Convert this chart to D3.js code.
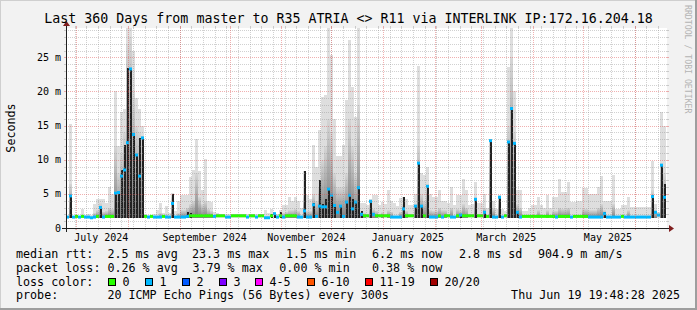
<!DOCTYPE html>
<meta charset="utf-8">
<style>
body { margin: 0; background: #f2f2f2; }
svg { display: block; font-family: "DejaVu Sans Mono", monospace; }
</style>
<body>
<script src="https://d3js.org/d3.v7.min.js"></script>
<script>

// one value per RRD step (360 days / 200 steps = 1.8 days), milliseconds
var median = [
  1.6,4.7,1.6,1.7,1.6,1.7,1.6,1.6,1.5,1.6,
  1.7,3.0,1.6,1.7,1.7,1.7,5.1,5.2,7.6,8.5,
  12.5,23.3,13.7,10.7,7.6,13.2,1.7,1.6,1.7,1.6,
  1.6,1.6,1.7,1.6,1.6,3.6,1.6,1.6,1.6,1.6,
  1.7,1.8,1.8,1.8,1.8,1.8,1.8,1.8,1.8,1.7,
  1.8,1.8,1.8,1.6,1.6,1.8,1.8,1.8,1.8,1.8,
  1.6,1.8,1.8,1.6,1.8,1.8,1.5,1.5,1.8,2.1,
  1.6,1.8,1.6,1.8,1.8,1.8,1.8,1.6,1.6,2.5,
  1.6,1.6,3.4,1.7,3.2,3.1,3.1,5.7,4.8,3.3,
  2.3,3.2,1.7,3.8,4.8,2.8,3.8,5.9,2.0,1.8,
  1.8,3.9,2.0,1.8,1.8,1.8,1.8,1.8,1.6,1.6,
  1.6,1.6,2.8,1.8,1.8,1.8,3.2,9.5,3.2,1.8,
  6.1,1.6,1.6,1.6,1.8,1.6,1.8,1.8,1.6,1.6,
  1.8,1.9,1.8,1.8,1.8,1.8,4.2,1.8,1.8,2.3,
  1.7,12.8,1.6,1.6,4.5,1.6,1.8,12.6,17.5,12.4,
  2.3,1.6,1.7,1.7,1.7,1.7,1.7,1.7,1.7,1.7,
  1.7,1.7,1.7,1.6,1.7,1.7,1.7,1.7,1.6,1.7,
  1.7,1.7,1.7,1.7,1.6,1.6,1.6,1.6,1.6,2.1,
  1.6,1.6,1.6,1.6,1.6,1.7,1.6,1.6,1.6,1.6,
  1.6,1.6,1.6,1.6,1.6,4.6,2.3,1.9,9.2,4.5
];

// loss class index per step (0 = no loss, 1 = one ping lost)
var lossClass = [
  1,1,1,0,1,0,1,1,1,1,
  0,1,1,0,0,0,1,1,1,1,
  1,1,1,1,1,1,0,1,0,1,
  1,1,0,1,1,1,1,1,1,1,
  1,0,0,0,0,0,0,0,0,1,
  0,0,0,1,1,0,0,0,0,0,
  1,0,0,1,0,0,1,1,0,1,
  1,0,1,0,0,0,0,1,1,1,
  1,1,1,1,1,1,1,1,1,1,
  1,1,1,1,1,1,1,1,1,0,
  0,1,1,0,0,0,0,0,1,1,
  1,1,1,0,0,0,1,1,1,0,
  1,1,1,1,0,1,0,0,1,1,
  0,1,0,0,0,0,1,0,0,1,
  0,1,1,1,1,1,0,1,1,1,
  1,1,0,0,0,0,0,0,0,0,
  0,0,0,1,0,0,0,0,1,0,
  0,0,0,0,1,1,1,1,1,1,
  1,1,1,1,1,0,1,1,1,1,
  1,1,1,1,1,1,1,1,1,1
];

// slowest ping of the step (top of the smoke)
var smokeTop = [
  1.8,15.2,1.8,1.8,1.8,2.8,1.9,2.0,1.9,3.5,
  4.3,4.3,4.3,3.6,6.0,5.0,20,12,17,17.5,
  29.3,29.3,26,19,17.5,15,1.9,1.9,1.9,2.0,
  2.6,3.6,2.2,3.2,2.2,5.2,2.5,3.9,4.9,4.8,
  4.8,7.4,8.5,13.0,8.4,5.6,10.1,4.0,3.8,2.4,
  2.2,2.1,2.0,2.1,2.0,2.0,2.1,2.0,2.0,2.0,
  2.0,2.0,2.0,2.0,2.0,2.1,2.6,2.2,2.8,2.3,
  2.0,2.7,3.3,3.3,4.5,4.0,4.5,4.0,3.0,8.4,
  4.8,4.3,12.1,8.9,14.3,19.2,19.5,29.3,25.3,16,
  10.5,10.6,12.1,18.7,27.5,20.6,16.2,29.3,3.6,3.6,
  3.3,4.2,4.8,4.8,3.3,3.8,3.5,5.5,4.0,3.6,
  3.2,4.4,4.5,4.3,3.3,3.3,5.0,23.8,8.0,7.7,
  8.9,5.0,4.5,4.5,5.6,4.0,4.0,3.6,6.0,3.4,
  4.8,4.8,7.2,5.5,3.3,3.5,6.7,3.6,3.6,5.0,
  3.0,12.9,4.0,2.8,4.8,2.8,2.5,23.6,29.3,20,
  5.5,5.5,2.5,2.5,3.0,3.3,3.3,4.5,3.3,3.0,
  4.8,3.0,4.5,4.5,7.2,5.3,5.3,6.7,3.8,3.8,
  4.0,4.0,5.8,5.8,5.0,5.0,5.0,6.0,7.6,4.0,
  4.0,4.0,7.7,2.8,2.8,3.3,3.3,4.6,3.1,3.1,
  3.1,3.1,3.1,3.1,3.1,9.8,3.5,2.4,17,15
];

// upper edge of the denser smoke (0 = none)
var smokeMid = [
  0,6.5,0,0,0,0,0,0,0,2.2,
  2.6,3.6,2.4,2.5,3.0,2.8,12,8,11,14,
  27,28,20,15,14,13.5,0,0,0,0,
  0,2.2,0,2.0,0,4.5,0,2.2,2.6,2.6,
  3.0,3.5,4.0,8.0,4.5,3.5,4.0,2.8,2.5,0,
  0,0,0,0,0,0,0,0,0,0,
  0,0,0,0,0,0,0,0,0,0,
  0,0,2.2,2.4,2.6,2.6,2.8,2.5,0,5.0,
  2.5,2.5,5,4,6,10,12,16,14,8,
  6,6,6,8,16,12,8,18,2.4,2.2,
  0,3.5,2.8,2.5,0,2.3,0,2.6,2.4,0,
  0,2.4,3.5,2.5,0,0,3.5,12,5,4,
  6.5,2.6,2.5,2.5,3.0,2.6,2.6,0,3.0,0,
  2.8,2.6,3.5,3.0,0,0,4.5,0,0,3.0,
  0,12.8,3.0,0,4.6,0,0,15,25,14,
  3.5,3.0,0,0,0,0,0,2.6,0,0,
  2.6,0,2.5,2.5,3.0,2.8,2.8,3.0,0,0,
  0,0,2.8,2.8,2.6,2.6,2.6,3.0,3.5,2.6,
  0,0,3.5,0,0,0,0,2.6,0,0,
  0,0,0,0,0,5.5,2.6,0,9.5,8
];

// upper edge of the darkest smoke around the median (0 = none)
var smokeDark = [
  0,4.7,0,0,0,0,0,0,0,0,
  0,3.0,0,0,0,0,5.1,5.2,8.5,12.2,
  23.4,23.3,13.7,10.7,13.2,13.2,0,0,0,0,
  0,0,0,0,0,5.0,0,0,0,0,
  2.3,2.2,0,0,0,0,0,0,0,0,
  0,0,0,0,0,0,0,0,0,0,
  0,0,0,0,0,0,0,0,2.0,2.2,
  0,2.3,0,0,0,0,0,0,0,8.4,
  0,0,3.6,0,7.0,3.5,4.3,5.8,4.8,3.3,
  0,3.2,0,4.0,4.8,4.3,3.8,6.0,2.5,0,
  0,4.0,0,0,0,0,0,0,0,0,
  0,0,4.5,0,0,0,3.3,9.6,3.3,0,
  6.2,0,0,0,0,0,0,0,0,0,
  0,2.1,0,0,0,0,4.3,0,0,2.5,
  0,12.8,0,0,4.6,0,0,12.6,17.7,12.4,
  2.5,0,0,0,0,0,0,0,0,0,
  0,0,0,0,0,0,0,0,0,0,
  0,0,0,0,0,0,0,0,0,2.3,
  0,0,0,0,0,0,0,0,0,0,
  0,0,0,0,0,4.8,0,0,9.4,6.5
];

var fastestPing = 1.4;          // bottom of the smoke
var yMax = 29.3;

var yTicks = [0, 5, 10, 15, 20, 25];
var yTickLabels = ["0", "5 m", "10 m", "15 m", "20 m", "25 m"];
var xLabelMonths = ["2024-07", "2024-09", "2024-11", "2025-01", "2025-03", "2025-05"];
var xLabels = ["July 2024", "September 2024", "November 2024", "January 2025", "March 2025", "May 2025"];

var lossLabels = ["0", "1", "2", "3", "4-5", "6-10", "11-19", "20/20"];
var lossColors = ["#26ff00", "#00b8ff", "#0059ff", "#7e00ff", "#ff00ff", "#ff5500", "#ff0000", "#a00000"];

var title = "Last 360 Days from master to R35 ATRIA <> R11 via INTERLINK IP:172.16.204.18";
var statRtt = ["median rtt:", "2.5 ms avg", "23.3 ms max", "1.5 ms min", "6.2 ms now", "2.8 ms sd", "904.9 m am/s"];
var statLoss = ["packet loss:", "0.26 % avg", "3.79 % max", "0.00 % min", "0.38 % now"];
var probeText = ["probe:", "20 ICMP Echo Pings (56 Bytes) every 300s"];
var stamp = "Thu Jun 19 19:48:28 2025";

// ---- layout ----
var W = 697, H = 310;
var plotL = 66, plotR = 666, plotT = 28, plotB = 228;

var tEnd = new Date(Date.UTC(2025, 5, 19, 19, 48, 28));
var tStart = new Date(+tEnd - 360 * 864e5);
var step = (tEnd - tStart) / median.length;
function stepTime(i) { return new Date(+tStart + i * step); }

var x = d3.scaleUtc().domain([tStart, tEnd]).range([plotL, plotR]);
var y = d3.scaleLinear().domain([0, yMax]).range([plotB, plotT]);

var svg = d3.select("body").append("svg")
    .attr("width", W)
    .attr("height", H);

// background and frame shades
svg.append("rect").attr("width", W).attr("height", H).attr("fill", "#f2f2f2");
svg.append("rect").attr("x", 0).attr("y", 0).attr("width", W).attr("height", 1).attr("fill", "#cfcfcf");
svg.append("rect").attr("x", 0).attr("y", 0).attr("width", 1).attr("height", H).attr("fill", "#cfcfcf");
svg.append("rect").attr("x", 0).attr("y", H - 2).attr("width", W).attr("height", 2).attr("fill", "#9e9e9e");
svg.append("rect").attr("x", W - 2).attr("y", 0).attr("width", 2).attr("height", H).attr("fill", "#9e9e9e");

// canvas
svg.append("rect")
    .attr("x", plotL).attr("y", plotT)
    .attr("width", plotR - plotL + 1).attr("height", plotB - plotT)
    .attr("fill", "#fff");

var defs = svg.append("defs");
var grad = defs.append("linearGradient").attr("id", "smoke")
    .attr("x1", 0).attr("y1", 1).attr("x2", 0).attr("y2", 0);
grad.append("stop").attr("offset", "0%").attr("stop-color", "#7c7c7c");
grad.append("stop").attr("offset", "100%").attr("stop-color", "#d6d6d6");

var idx = d3.range(median.length);
function bx(i) { return x(stepTime(i)); }
function bw(i) { return x(stepTime(i + 1)) - x(stepTime(i)); }

// light smoke
svg.append("g").attr("shape-rendering", "crispEdges")
  .selectAll("rect")
    .data(idx.filter(function(i) { return smokeTop[i] > fastestPing; }))
  .enter().append("rect")
    .attr("x", bx)
    .attr("width", bw)
    .attr("y", function(i) { return y(smokeTop[i]); })
    .attr("height", function(i) { return y(fastestPing) - y(smokeTop[i]); })
    .attr("fill", "#dedede");

// denser smoke
svg.append("g").attr("shape-rendering", "crispEdges")
  .selectAll("rect")
    .data(idx.filter(function(i) { return smokeMid[i] > fastestPing; }))
  .enter().append("rect")
    .attr("x", bx)
    .attr("width", bw)
    .attr("y", function(i) { return y(smokeMid[i]); })
    .attr("height", function(i) { return y(fastestPing) - y(smokeMid[i]); })
    .attr("fill", "url(#smoke)");

// darkest smoke
svg.append("g").attr("shape-rendering", "crispEdges")
  .selectAll("rect")
    .data(idx.filter(function(i) { return smokeDark[i] > fastestPing; }))
  .enter().append("rect")
    .attr("x", function(i) { return bx(i) + 0.5; })
    .attr("width", function(i) { return bw(i) - 1; })
    .attr("y", function(i) { return y(smokeDark[i]); })
    .attr("height", function(i) { return y(fastestPing) - y(smokeDark[i]); })
    .attr("fill", "#222");

// median, coloured by loss
svg.append("g")
  .selectAll("line")
    .data(idx)
  .enter().append("line")
    .attr("x1", bx)
    .attr("x2", function(i) { return bx(i) + bw(i); })
    .attr("y1", function(i) { return y(median[i]); })
    .attr("y2", function(i) { return y(median[i]); })
    .attr("stroke", function(i) { return lossColors[lossClass[i]]; })
    .attr("stroke-width", 3);

// ---- grid (drawn over the data, like rrdtool) ----
var minorCol = "rgba(140,140,140,0.4)", majorCol = "rgba(222,79,79,0.45)";
var grid = svg.append("g").attr("shape-rendering", "crispEdges");

function hLine(v, col) {
  var yy = Math.round(y(v)) + 0.5;
  grid.append("line").attr("x1", plotL).attr("x2", plotR + 1).attr("y1", yy).attr("y2", yy)
      .attr("stroke", col).attr("stroke-dasharray", "1,1");
  grid.append("line").attr("x1", plotL - 2).attr("x2", plotL).attr("y1", yy).attr("y2", yy).attr("stroke", col);
  grid.append("line").attr("x1", plotR + 1).attr("x2", plotR + 3).attr("y1", yy).attr("y2", yy).attr("stroke", col);
}
function vLine(t, col) {
  var xx = Math.round(x(t)) + 0.5;
  grid.append("line").attr("x1", xx).attr("x2", xx).attr("y1", plotT).attr("y2", plotB)
      .attr("stroke", col).attr("stroke-dasharray", "1,1");
  grid.append("line").attr("x1", xx).attr("x2", xx).attr("y1", plotT - 2).attr("y2", plotT).attr("stroke", col);
  grid.append("line").attr("x1", xx).attr("x2", xx).attr("y1", plotB).attr("y2", plotB + 2).attr("stroke", col);
}

d3.range(1, Math.floor(yMax) + 1).forEach(function(v) { if (v % 5) hLine(v, minorCol); });
d3.utcSunday.range(tStart, tEnd).forEach(function(t) { vLine(t, minorCol); });
yTicks.forEach(function(v) { if (v > 0) hLine(v, majorCol); });
d3.utcMonth.range(tStart, tEnd).forEach(function(t) { vLine(t, majorCol); });

// ---- axes ----
var axisCol = "#1f1f1f", arrowCol = "#801f1f";
svg.append("line").attr("x1", plotL - 4).attr("x2", plotR + 4)
    .attr("y1", plotB + 0.5).attr("y2", plotB + 0.5).attr("stroke", axisCol);
svg.append("line").attr("x1", plotL + 0.5).attr("x2", plotL + 0.5)
    .attr("y1", plotB + 4).attr("y2", plotT - 4).attr("stroke", axisCol);
svg.append("path")
    .attr("d", "M" + (plotR + 3) + "," + (plotB - 3) + "L" + (plotR + 8) + "," + (plotB + 0.5) + "L" + (plotR + 3) + "," + (plotB + 4) + "Z")
    .attr("fill", arrowCol);
svg.append("path")
    .attr("d", "M" + (plotL - 3) + "," + (plotT - 2) + "L" + (plotL + 0.5) + "," + (plotT - 7) + "L" + (plotL + 4) + "," + (plotT - 2) + "Z")
    .attr("fill", arrowCol);

// y tick labels
svg.append("g").selectAll("text")
    .data(yTicks)
  .enter().append("text")
    .attr("x", 61)
    .attr("y", function(d) { return y(d) + 3.5; })
    .attr("text-anchor", "end")
    .attr("font-size", "10px")
    .text(function(d, i) { return yTickLabels[i]; });

// x labels, centred in the middle of the month
var parseMonth = d3.utcParse("%Y-%m");
svg.append("g").selectAll("text")
    .data(xLabelMonths)
  .enter().append("text")
    .attr("x", function(d) { return x(d3.utcDay.offset(parseMonth(d), 15)); })
    .attr("y", 241)
    .attr("text-anchor", "middle")
    .attr("font-size", "10px")
    .text(function(d, i) { return xLabels[i]; });

// title and axis name
svg.append("text")
    .attr("x", 348.5).attr("y", 23)
    .attr("text-anchor", "middle")
    .attr("font-size", "13.3px")
    .text(title);

svg.append("text")
    .attr("transform", "translate(15,128) rotate(-90)")
    .attr("text-anchor", "middle")
    .attr("font-size", "11.7px")
    .text("Seconds");

svg.append("text")
    .attr("transform", "translate(685,5) rotate(90)")
    .attr("font-size", "8.2px")
    .attr("fill", "#b4b4b4")
    .text("RRDTOOL / TOBI OETIKER");

// ---- legend ----
var legend = svg.append("g").attr("font-size", "11.7px").style("white-space", "pre");

var rttX = [16, 107.4, 192, 286, 372, 459, 538];
statRtt.forEach(function(s, i) {
  legend.append("text").attr("x", rttX[i]).attr("y", 258.3).text(s);
});
var lossX = [16, 107.4, 192.4, 279.3, 372];
statLoss.forEach(function(s, i) {
  legend.append("text").attr("x", lossX[i]).attr("y", 271.8).text(s);
});

legend.append("text").attr("x", 16).attr("y", 285.5).text("loss color:");
var boxX = [108.5, 145.5, 182.5, 219.5, 255.5, 307.5, 365.5, 430.5];
lossLabels.forEach(function(s, i) {
  legend.append("rect")
      .attr("x", boxX[i]).attr("y", 278.5)
      .attr("width", 7).attr("height", 7)
      .attr("fill", lossColors[i])
      .attr("stroke", "#000");
  legend.append("text").attr("x", boxX[i] + 14).attr("y", 285.5).text(s);
});

legend.append("text").attr("x", 16).attr("y", 299).text(probeText[0]);
legend.append("text").attr("x", 107.4).attr("y", 299).text(probeText[1]);
legend.append("text").attr("x", 680).attr("y", 299).attr("text-anchor", "end").text(stamp);

</script>
</body>
